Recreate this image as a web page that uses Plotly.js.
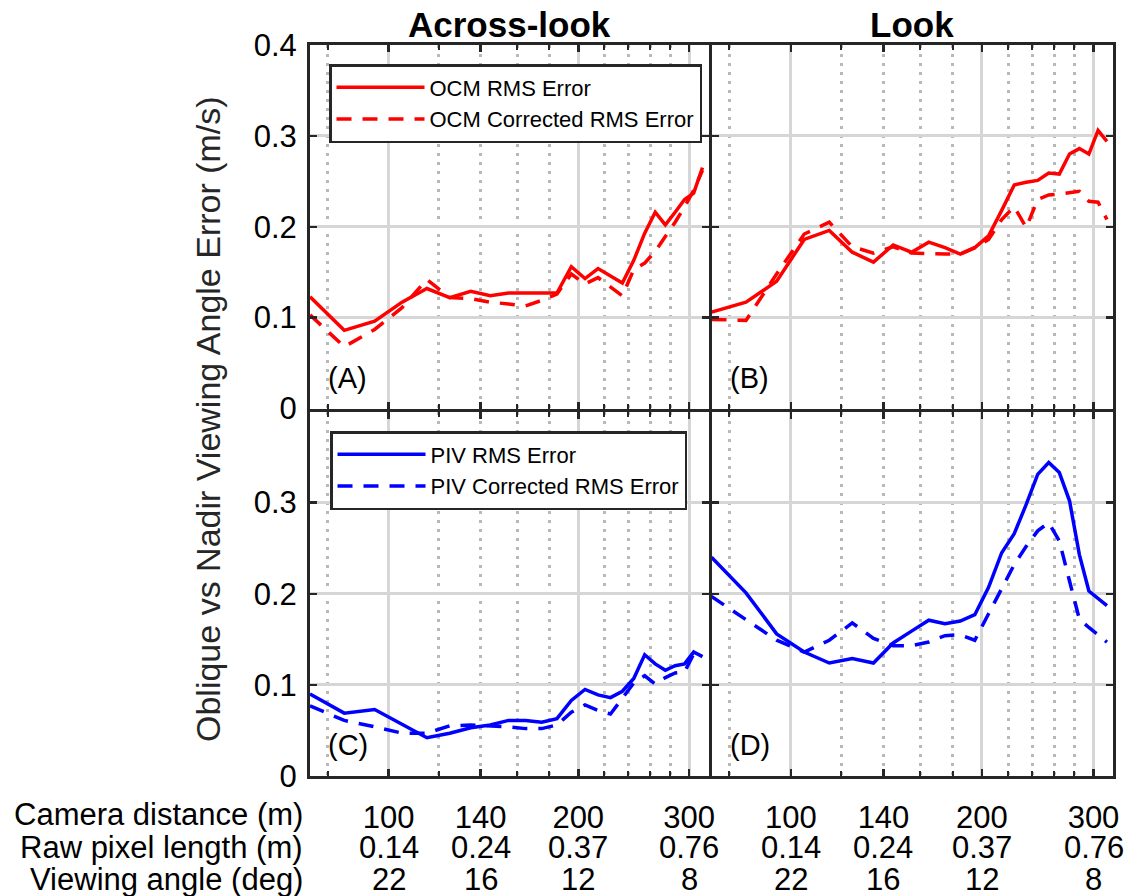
<!DOCTYPE html>
<html>
<head>
<meta charset="utf-8">
<script src="https://cdn.plot.ly/plotly-3.0.1.min.js"></script>
<style>
  html, body { margin: 0; padding: 0; background: #ffffff; }
  #chart { width: 1127px; height: 896px; }
</style>
</head>
<body>
<div id="chart"></div>
<script>
// Camera distance of each sampled altitude (m)
const cameraDistance = [75, 85, 95, 105, 115, 125, 135, 145, 155, 165, 175, 185, 195, 205, 215, 225, 235, 245, 255, 265, 275, 285, 295, 305, 315];

// OCM oblique-vs-nadir RMS errors (m/s)
const ocmAcrossRms       = [0.123, 0.086, 0.096, 0.117, 0.132, 0.122, 0.129, 0.124, 0.127, 0.127, 0.127, 0.127, 0.156, 0.143, 0.154, 0.146, 0.138, 0.163, 0.193, 0.216, 0.202, 0.216, 0.230, 0.237, 0.265];
const ocmAcrossCorrected = [0.103, 0.068, 0.087, 0.111, 0.142, 0.122, 0.121, 0.117, 0.115, 0.113, 0.119, 0.126, 0.148, 0.137, 0.144, 0.134, 0.124, 0.153, 0.160, 0.173, 0.189, 0.205, 0.222, 0.240, 0.262];
const ocmLookRms         = [0.106, 0.117, 0.140, 0.186, 0.196, 0.172, 0.161, 0.180, 0.172, 0.183, 0.177, 0.170, 0.177, 0.190, 0.218, 0.246, 0.249, 0.251, 0.259, 0.258, 0.280, 0.286, 0.280, 0.306, 0.294];
const ocmLookCorrected   = [0.098, 0.097, 0.148, 0.192, 0.205, 0.178, 0.171, 0.178, 0.171, 0.170, 0.170, 0.170, 0.177, 0.186, 0.208, 0.222, 0.199, 0.230, 0.235, 0.236, 0.238, 0.239, 0.228, 0.227, 0.208];

// PIV oblique-vs-nadir RMS errors (m/s)
const pivAcrossRms       = [0.090, 0.069, 0.073, 0.057, 0.042, 0.047, 0.053, 0.056, 0.061, 0.061, 0.059, 0.063, 0.083, 0.095, 0.089, 0.086, 0.093, 0.107, 0.133, 0.123, 0.116, 0.121, 0.123, 0.136, 0.131];
const pivAcrossCorrected = [0.077, 0.061, 0.054, 0.047, 0.047, 0.055, 0.056, 0.055, 0.054, 0.052, 0.052, 0.056, 0.070, 0.078, 0.072, 0.068, 0.085, 0.102, 0.110, 0.101, 0.108, 0.113, 0.114, 0.134, 0.132];
const pivLookRms         = [0.240, 0.201, 0.156, 0.136, 0.124, 0.129, 0.124, 0.146, 0.159, 0.171, 0.167, 0.170, 0.177, 0.207, 0.245, 0.266, 0.298, 0.331, 0.344, 0.333, 0.302, 0.243, 0.203, 0.195, 0.187];
const pivLookCorrected   = [0.197, 0.171, 0.149, 0.136, 0.149, 0.168, 0.151, 0.143, 0.143, 0.147, 0.154, 0.155, 0.149, 0.178, 0.205, 0.232, 0.252, 0.269, 0.278, 0.258, 0.214, 0.172, 0.163, 0.155, 0.147];

// Axis ticks and the secondary scales written under each distance tick
const distanceTicks      = [100, 140, 200, 300];
const pixelLengthLabels  = ['0.14', '0.24', '0.37', '0.76'];
const viewingAngleLabels = ['22', '16', '12', '8'];
const majorGridDistances = [100, 200, 300];
const minorGridDistances = [80, 120, 140, 160, 180, 220, 240, 260, 280];
const errorTicks         = [0, 0.1, 0.2, 0.3, 0.4];
const rowLabels    = ['Camera distance (m)', 'Raw pixel length (m)', 'Viewing angle (deg)'];
const columnTitles = ['Across-look', 'Look'];
const panelTags    = ['(A)', '(B)', '(C)', '(D)'];
const seriesNames  = {
  ocm: ['OCM RMS Error', 'OCM Corrected RMS Error'],
  piv: ['PIV RMS Error', 'PIV Corrected RMS Error']
};

// ---- layout geometry (page pixels -> paper fractions) ----
const W = 1127, H = 896;
const FONT = '"Liberation Sans", Arial, Helvetica, sans-serif';
const INK = '#262626';
const px = v => v / W;
const py = v => 1 - v / H;

// inner edges are pulled apart by half a border width so the shared borders coincide
const colA = [px(310), px(708.5)];
const colB = [px(711.5), px(1113)];
const rowTop = [py(408.5), py(45)];
const rowBottom = [py(776), py(411.5)];
const xRange = [Math.log10(75), Math.log10(322)];

function distanceAxis(domain, anchor, showLabels) {
  return {
    domain: domain, anchor: anchor, type: 'log', range: xRange, fixedrange: true,
    tickmode: 'array', tickvals: distanceTicks, ticktext: distanceTicks.map(String),
    showticklabels: showLabels,
    tickfont: { family: FONT, size: 31, color: '#000' },
    ticklabelstandoff: 12,
    ticks: 'inside', ticklen: 7, tickwidth: 2.5, tickcolor: INK,
    showline: true, linewidth: 3, linecolor: INK, mirror: 'ticks',
    showgrid: false, zeroline: false,
    minor: {
      tickmode: 'array', tickvals: minorGridDistances,
      ticks: 'inside', ticklen: 5, tickwidth: 2, tickcolor: INK,
      showgrid: true, gridcolor: '#b9b9b9', gridwidth: 3, griddash: '3px,6px'
    }
  };
}

// Solid grid at the round distances, on an overlaid axis sharing the same scale
function gridAxis(over, anchor) {
  return {
    overlaying: over, anchor: anchor, type: 'log', range: xRange, fixedrange: true,
    tickmode: 'array', tickvals: majorGridDistances,
    showticklabels: false, ticks: '', showline: false, zeroline: false,
    showgrid: true, gridcolor: '#d6d6d6', gridwidth: 3
  };
}

function errorAxis(domain, anchor, showLabels, topLabel) {
  return {
    domain: domain, anchor: anchor, range: [0, 0.4], fixedrange: true,
    tickmode: 'array', tickvals: errorTicks,
    ticktext: errorTicks.map((v, i) => (i === errorTicks.length - 1 && !topLabel) ? '' : String(v)),
    showticklabels: showLabels,
    tickfont: { family: FONT, size: 31, color: '#000' },
    ticklabelstandoff: 4,
    ticks: 'inside', ticklen: 7, tickwidth: 2.5, tickcolor: INK,
    showline: true, linewidth: 3, linecolor: INK, mirror: 'ticks',
    showgrid: true, gridcolor: '#d6d6d6', gridwidth: 3, zeroline: false
  };
}

const panels = [
  { xa: 'x',  ya: 'y',  solid: ocmAcrossRms, dashed: ocmAcrossCorrected, color: '#ff0000', names: seriesNames.ocm, legend: 'legend',  showlegend: true },
  { xa: 'x2', ya: 'y2', solid: ocmLookRms,   dashed: ocmLookCorrected,   color: '#ff0000', names: seriesNames.ocm, legend: 'legend',  showlegend: false },
  { xa: 'x3', ya: 'y3', solid: pivAcrossRms, dashed: pivAcrossCorrected, color: '#0000ff', names: seriesNames.piv, legend: 'legend2', showlegend: true },
  { xa: 'x4', ya: 'y4', solid: pivLookRms,   dashed: pivLookCorrected,   color: '#0000ff', names: seriesNames.piv, legend: 'legend2', showlegend: false }
];

const traces = [];
panels.forEach(p => {
  traces.push({
    type: 'scatter', mode: 'lines', x: cameraDistance, y: p.solid,
    xaxis: p.xa, yaxis: p.ya, name: p.names[0], legend: p.legend, showlegend: p.showlegend,
    line: { color: p.color, width: 3.5 }, hoverinfo: 'skip'
  });
  traces.push({
    type: 'scatter', mode: 'lines', x: cameraDistance, y: p.dashed,
    xaxis: p.xa, yaxis: p.ya, name: p.names[1], legend: p.legend, showlegend: p.showlegend,
    line: { color: p.color, width: 3.5, dash: '15px,11px' }, hoverinfo: 'skip'
  });
});
// empty holders so the overlaid grid axes get their own subplots
[['x5', 'y'], ['x6', 'y2'], ['x7', 'y3'], ['x8', 'y4']].forEach(([xa, ya]) => {
  traces.push({ type: 'scatter', mode: 'lines', x: [], y: [], xaxis: xa, yaxis: ya, showlegend: false, hoverinfo: 'skip' });
});

const annotations = [];
// column titles
columnTitles.forEach((t, i) => {
  annotations.push({
    text: '<b>' + t + '</b>', xref: i === 0 ? 'x domain' : 'x2 domain', x: 0.5, yref: 'paper', y: py(24),
    xanchor: 'center', yanchor: 'middle', showarrow: false,
    font: { family: FONT, size: 35, color: '#000' }
  });
});
// panel tags
const tagAxes = [['x domain', 'y domain'], ['x2 domain', 'y2 domain'], ['x3 domain', 'y3 domain'], ['x4 domain', 'y4 domain']];
panelTags.forEach((t, i) => {
  annotations.push({
    text: t, xref: tagAxes[i][0], yref: tagAxes[i][1], x: 0.04, y: 0.085,
    xanchor: 'left', yanchor: 'middle', showarrow: false,
    font: { family: FONT, size: 29, color: '#000' }
  });
});
// y-axis title shared by both rows
annotations.push({
  text: 'Oblique vs Nadir Viewing Angle Error (m/s)', textangle: -90,
  xref: 'paper', yref: 'paper', x: px(208), y: py(419), xanchor: 'center', yanchor: 'middle',
  showarrow: false, font: { family: FONT, size: 34, color: INK }
});
// row labels for the three scales
const rowY = [814, 847, 879];
rowLabels.forEach((t, i) => {
  annotations.push({
    text: t, xref: 'paper', yref: 'paper', x: px(305), y: py(rowY[i]),
    xanchor: 'right', yanchor: 'middle', showarrow: false,
    font: { family: FONT, size: 31, color: '#000' }
  });
});
// pixel-length and viewing-angle values under each distance tick
['x3', 'x4'].forEach(xa => {
  distanceTicks.forEach((d, k) => {
    [pixelLengthLabels[k], viewingAngleLabels[k]].forEach((lab, r) => {
      annotations.push({
        text: lab, xref: xa, yref: 'paper', x: Math.log10(d), y: py(rowY[r + 1]),
        xanchor: 'center', yanchor: 'middle', showarrow: false,
        font: { family: FONT, size: 31, color: '#000' }
      });
    });
  });
});

const legendStyle = {
  xanchor: 'left', yanchor: 'top', bgcolor: '#ffffff', bordercolor: INK, borderwidth: 2.5,
  font: { family: FONT, size: 22, color: '#000' }, itemwidth: 88, tracegroupgap: 0,
  traceorder: 'normal', itemclick: false, itemdoubleclick: false
};

const layout = {
  width: W, height: H,
  margin: { l: 0, r: 0, t: 0, b: 0 },
  paper_bgcolor: '#ffffff', plot_bgcolor: '#ffffff',
  font: { family: FONT, color: '#000' },
  hovermode: false,
  xaxis:  distanceAxis(colA, 'y', false),
  xaxis2: distanceAxis(colB, 'y2', false),
  xaxis3: distanceAxis(colA, 'y3', true),
  xaxis4: distanceAxis(colB, 'y4', true),
  xaxis5: gridAxis('x', 'y'),
  xaxis6: gridAxis('x2', 'y2'),
  xaxis7: gridAxis('x3', 'y3'),
  xaxis8: gridAxis('x4', 'y4'),
  yaxis:  errorAxis(rowTop, 'x', true, true),
  yaxis2: errorAxis(rowTop, 'x2', false, true),
  yaxis3: errorAxis(rowBottom, 'x3', true, false),
  yaxis4: errorAxis(rowBottom, 'x4', false, false),
  legend:  Object.assign({ x: px(329), y: py(64) }, legendStyle),
  legend2: Object.assign({ x: px(330), y: py(431) }, legendStyle),
  annotations: annotations,
  showlegend: true
};

Plotly.newPlot('chart', traces, layout, { staticPlot: true, displayModeBar: false });
</script>
</body>
</html>
